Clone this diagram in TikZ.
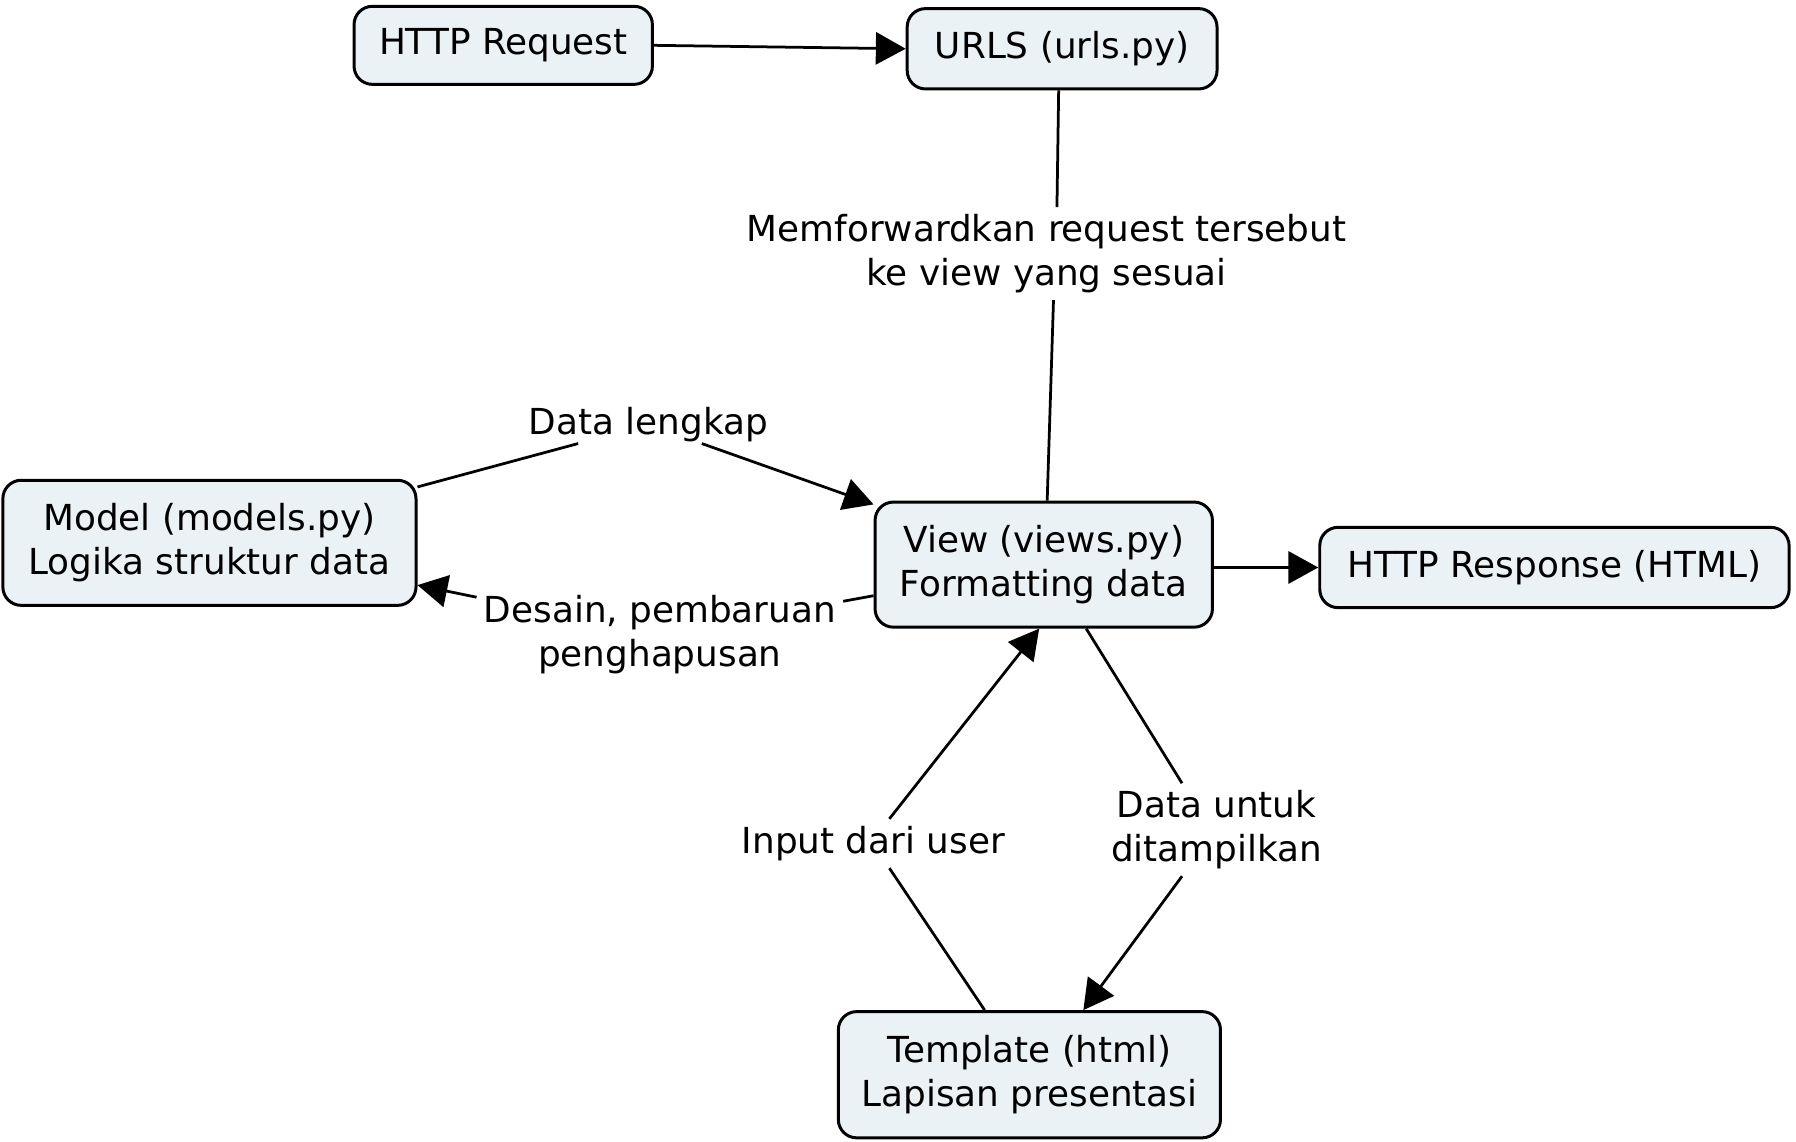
\documentclass[tikz,border=0pt]{standalone}
\usepackage{fontspec}
\setmainfont{DejaVu Sans}
\usetikzlibrary{arrows.meta,calc}
\definecolor{boxfill}{RGB}{235,242,245}
\begin{document}
\begin{tikzpicture}[x=0.5pt,y=-0.5pt,
  font=\fontsize{15.6}{19}\selectfont,
  concept/.style={draw=black,line width=1.3pt,fill=boxfill,rounded corners=8pt,align=center,inner sep=0pt},
  linklbl/.style={align=center,inner sep=3pt},
  conn/.style={line width=1.2pt},
  arr/.style={conn,-{Triangle[length=13pt,width=14pt]}}]
\useasboundingbox (0,0) rectangle (1565,995);
\node[concept,minimum width=130pt,minimum height=34pt] (req) at (438.5,39.5) {HTTP Request};
\node[concept,minimum width=135pt,minimum height=35pt] (urls) at (925.5,42.5) {URLS (urls.py)};
\node[concept,minimum width=180pt,minimum height=54.5pt] (model) at (182.5,473) {Model (models.py)\\Logika struktur data};
\node[concept,minimum width=147pt,minimum height=54.5pt] (view) at (909.5,492) {View (views.py)\\Formatting data};
\node[concept,minimum width=204.5pt,minimum height=35pt] (resp) at (1354.5,494.5) {HTTP Response (HTML)};
\node[concept,minimum width=166.5pt,minimum height=55pt] (tmpl) at (897,936.5) {Template (html)\\Lapisan presentasi};

\node[linklbl] (l1) at (912,221) {Memforwardkan request tersebut\\ke view yang sesuai};
\node[linklbl,inner sep=0.5pt] (l2) at (565,370) {Data lengkap};
\node[linklbl] (l3) at (575,553) {Desain, pembaruan\\penghapusan};
\node[linklbl] (l4) at (761,735) {Input dari user};
\node[linklbl] (l5) at (1060,723) {Data untuk\\ditampilkan};

\draw[arr] (req.east) -- (urls.west);
\draw[conn] ($(urls.south)+(-3,0)$) -- ($(l1.north)+(9,0)$);
\draw[conn] ($(l1.south)+(6,0)$) -- ($(view.north)+(3,0)$);
\draw[conn] (model) -- (l2);
\draw[arr] (l2) -- (view);
\draw[conn] (view) -- (l3);
\draw[arr] (l3) -- (model);
\draw[conn] ($(tmpl.north)+(-39,0)$) -- ($(l4.south)+(14,0)$);
\draw[arr] ($(l4.north)+(14,0)$) -- ($(view.south)+(-4,0)$);
\draw[conn] ($(view.south)+(37,0)$) -- ($(l5.north)+(-30,0)$);
\draw[arr] ($(l5.south)+(-30,0)$) -- ($(tmpl.north)+(47,0)$);
\draw[arr] (view.east |- resp.west) -- (resp.west);
\end{tikzpicture}
\end{document}
